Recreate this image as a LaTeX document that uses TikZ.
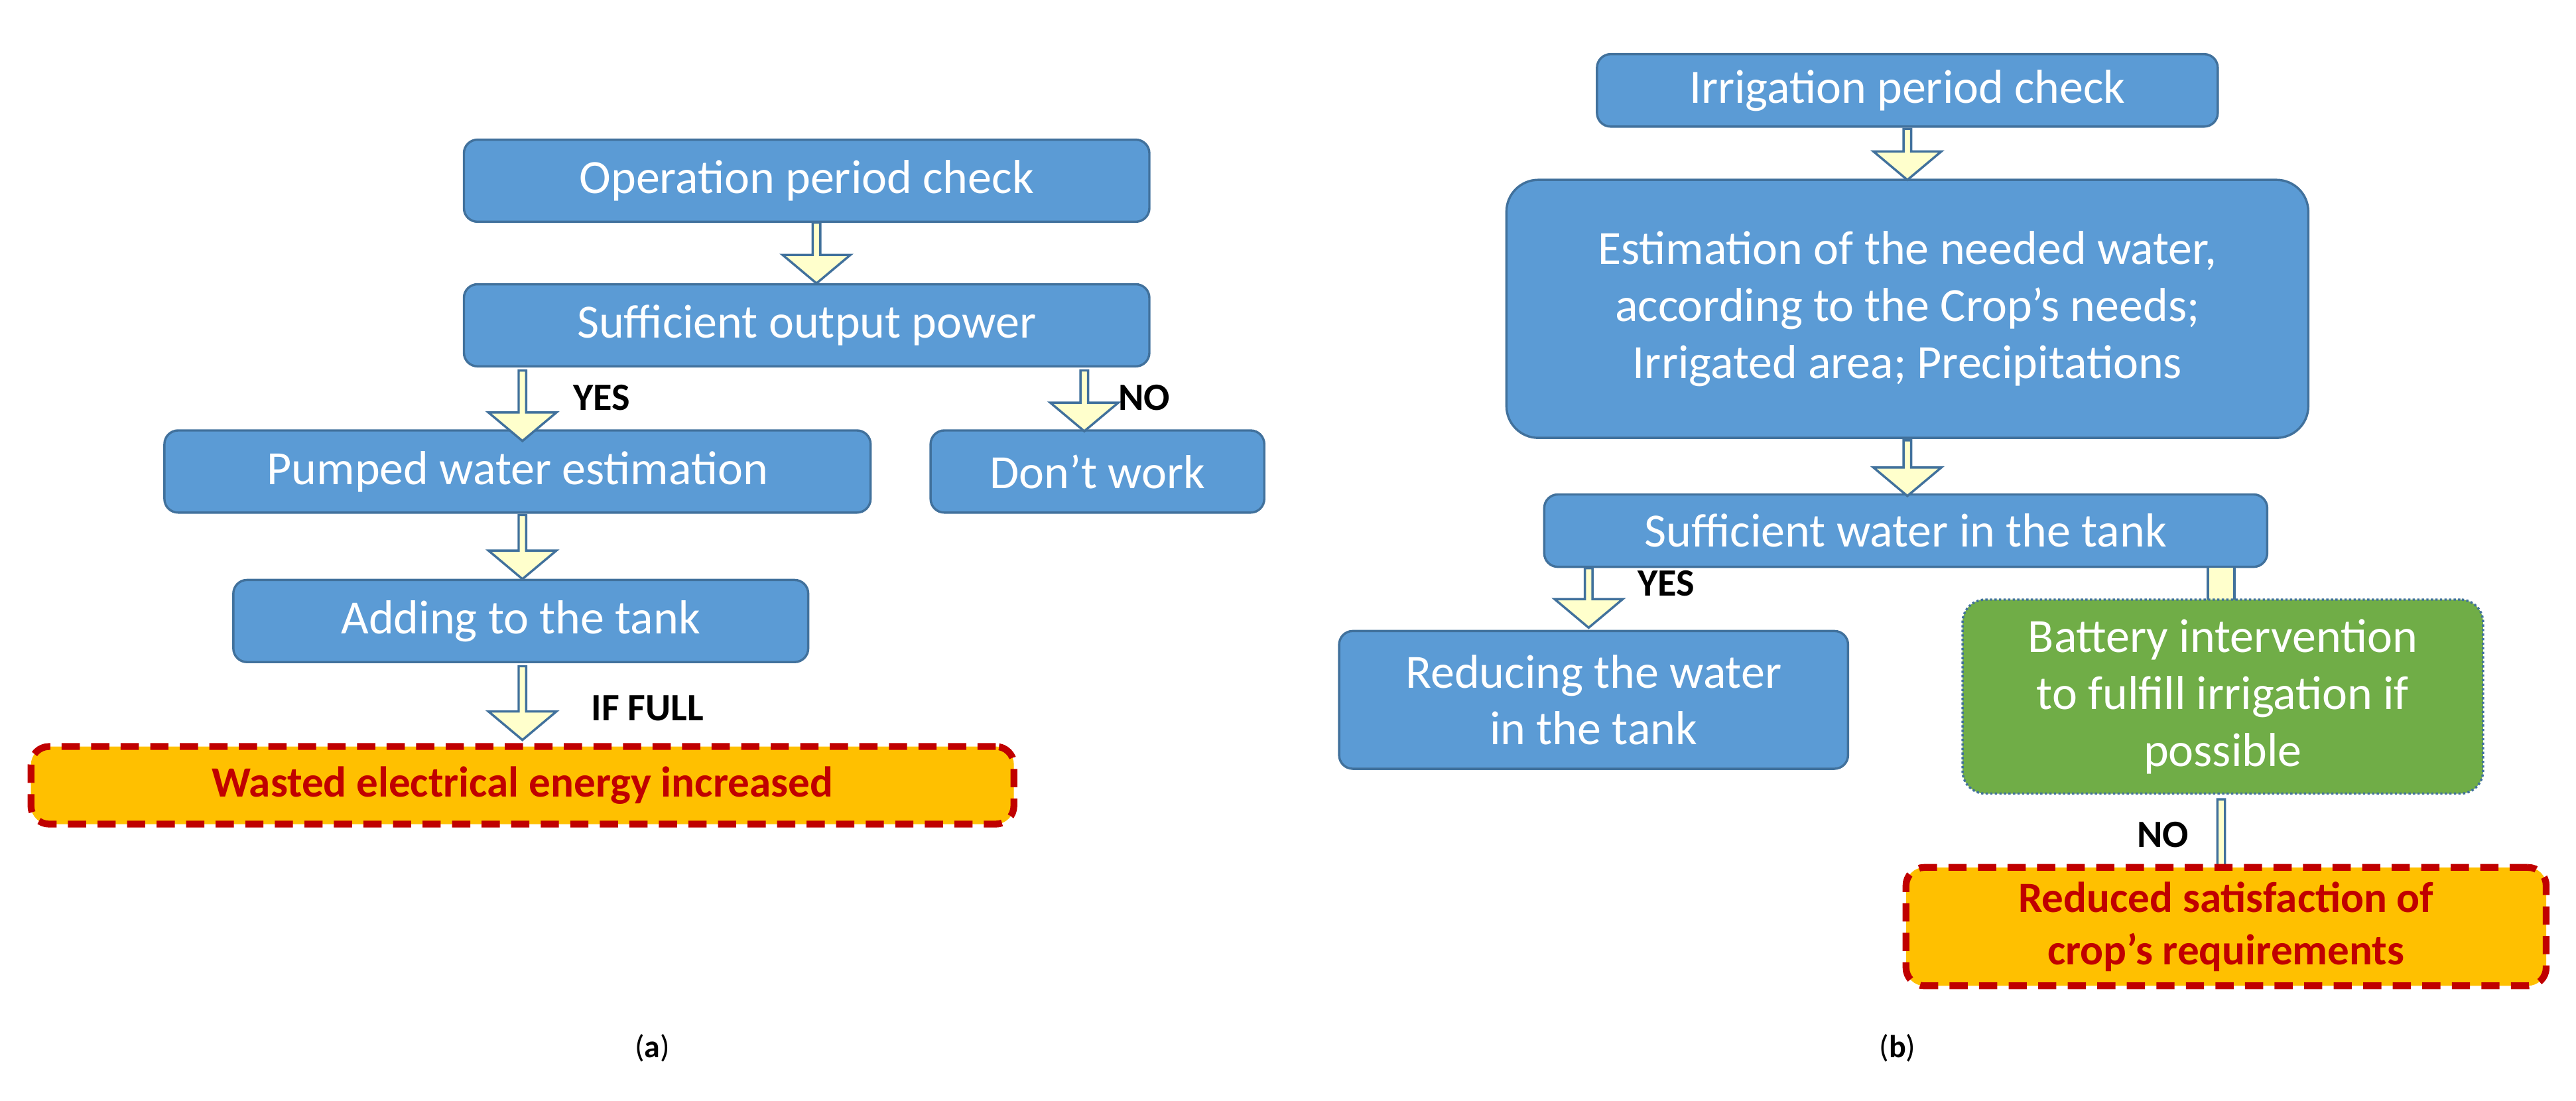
\documentclass[tikz,border=0pt]{standalone}
\usepackage{fontspec}
\setmainfont{Carlito}
\usetikzlibrary{shapes.arrows}
\definecolor{bb}{HTML}{5B9BD5}
\definecolor{bd}{HTML}{41719C}
\definecolor{ay}{HTML}{FFFFCC}
\definecolor{og}{HTML}{FFC000}
\definecolor{rd}{HTML}{C00000}
\definecolor{gr}{HTML}{70AD47}
\begin{document}
\begin{tikzpicture}[x=0.0254cm,y=-0.0254cm,
 box/.style={draw=bd,fill=bb,rounded corners=6pt,line width=1pt,text=white,font=\fontsize{21}{25}\selectfont,align=center,inner sep=0pt},
 warn/.style={draw=rd,fill=og,dashed,dash pattern=on 8pt off 5pt,line width=3pt,rounded corners=8pt,text=rd,font=\fontsize{19}{23}\selectfont\bfseries,align=center},
 barrow/.style={single arrow,draw=bd,fill=ay,line width=1pt,shape border rotate=270,minimum width=1.05cm,single arrow head extend=0.14cm,single arrow tip angle=100,inner sep=0pt},
 lbl/.style={font=\fontsize{17}{20}\selectfont\bfseries,anchor=west}]
\useasboundingbox (0,0) rectangle (1568,670);
% (a)
\node[box,minimum width=417\pgflinewidth,minimum width=10.6cm,minimum height=1.27cm] (a1) at (491,110) {Operation period check};
\node[box,minimum width=10.6cm,minimum height=1.27cm] (a2) at (491,198) {Sufficient output power};
\node[box,minimum width=10.92cm,minimum height=1.27cm] (a3) at (315,287) {Pumped water estimation};
\node[box,minimum width=5.16cm,minimum height=1.27cm] (a4) at (668,287) {Don’t work};
\node[box,minimum width=8.89cm,minimum height=1.27cm] (a5) at (317,378) {Adding to the tank};
\node[warn,minimum width=15.2cm,minimum height=1.2cm] (a6) at (318,478) {Wasted electrical energy increased};
\node[barrow,minimum height=0.94cm] (r1) at (497,153) {};
\node[barrow,minimum height=1.09cm] (r2) at (318,246) {};
\node[barrow,minimum height=0.94cm] (r3) at (660,243) {};
\node[barrow,minimum height=0.99cm] (r4) at (318,332) {};
\node[barrow,minimum height=1.14cm] (r5) at (318,427) {};
\node[lbl] (ly) at (344,242) {YES};
\node[lbl] (ln) at (676,242) {NO};
\node[lbl] (lf) at (355,431) {IF FULL};
\node[font=\fontsize{14}{16}\selectfont] (ca) at (397,638) {(\textbf{a})};
% (b)
\node[box,minimum width=9.6cm,minimum height=1.12cm] (b1) at (1161,55) {Irrigation period check};
\node[box,rounded corners=14pt,minimum width=12.4cm,minimum height=3.99cm] (b2) at (1161,188) {Estimation of the needed water,\\according to the Crop’s needs;\\Irrigated area; Precipitations};
\node[box,minimum width=11.18cm,minimum height=1.12cm] (b3) at (1160,323) {Sufficient water in the tank};
\node[box,minimum width=7.87cm,minimum height=2.13cm] (b4) at (970,426) {Reducing the water\\in the tank};
\node[barrow,minimum height=0.79cm] (s1) at (1161,93) {};
\node[barrow,minimum height=0.86cm] (s2) at (1161,284) {};
\node[barrow,minimum height=0.92cm] (s3) at (967,363) {};
\draw[bd,fill=ay,line width=1pt] (1344,345) rectangle (1360,368);
\node[box,fill=gr,draw=bd,densely dotted,rounded corners=10pt,minimum width=8.05cm,minimum height=3.0cm] (b5) at (1353,424) {Battery intervention\\to fulfill irrigation if\\possible};
\node[barrow,minimum height=1.75cm] (s4) at (1352,520) {};
\node[warn,minimum width=9.9cm,minimum height=1.83cm] (b6) at (1355,564) {Reduced satisfaction of\\crop’s requirements};
\node[lbl] (my) at (992,355) {YES};
\node[lbl] (mn) at (1296,508) {NO};
\node[font=\fontsize{14}{16}\selectfont] (cb) at (1155,638) {(\textbf{b})};
\end{tikzpicture}
\end{document}
